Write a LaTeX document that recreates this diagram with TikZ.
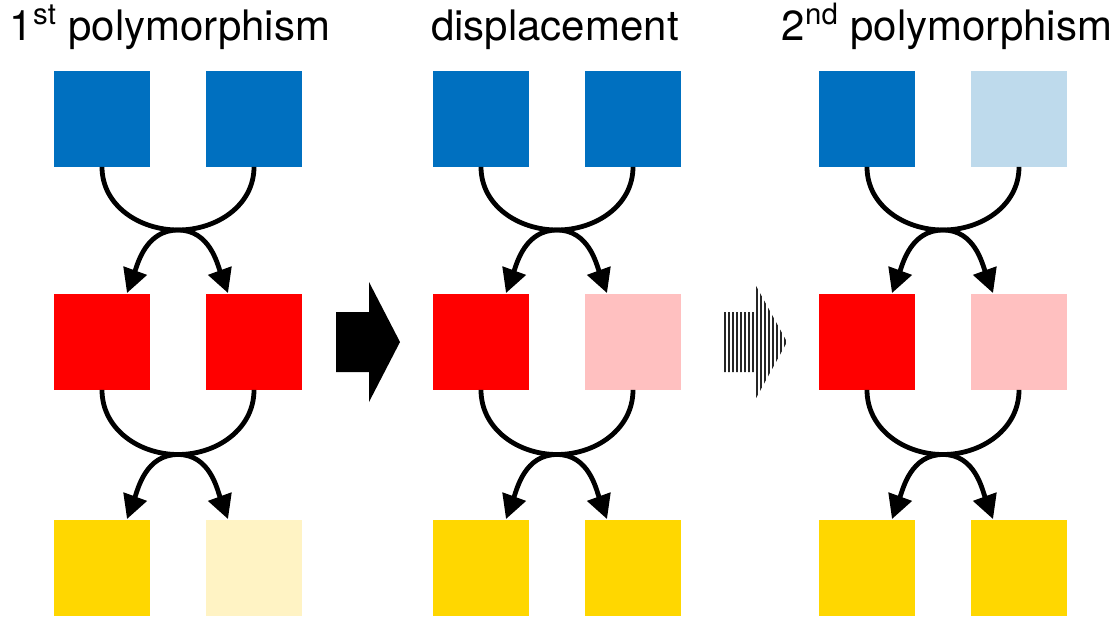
\documentclass[tikz,border=0pt]{standalone}
\usepackage{fontspec}
\setmainfont{TeX Gyre Heros}
\usepackage{tikz}
\usetikzlibrary{arrows.meta, calc}
\definecolor{sqblue}{RGB}{0,112,192}
\definecolor{sqlblue}{RGB}{190,218,236}
\definecolor{sqred}{RGB}{255,0,0}
\definecolor{sqpink}{RGB}{255,192,192}
\definecolor{sqyellow}{RGB}{255,215,0}
\definecolor{sqlyellow}{RGB}{255,243,196}

\begin{document}
\begin{tikzpicture}[x=0.5pt, y=-0.5pt,
    sq/.style={rectangle, minimum size=48pt, inner sep=0pt},
    link/.style={-{Triangle[length=12pt,width=12pt]}, line width=2.4pt},
    title/.style={anchor=base, inner sep=0pt, font=\fontsize{21}{25}\selectfont}
]
    \useasboundingbox (0,0) rectangle (1119,617);

    % Titles
    \node[title] (t1) at (170,40) {1\textsuperscript{st} polymorphism};
    \node[title] (t2) at (555,40) {displacement};
    \node[title] (t3) at (947,40) {2\textsuperscript{nd} polymorphism};

    % 1st polymorphism
    \node[sq, fill=sqblue] (b1l) at (102,118.5) {};
    \node[sq, fill=sqblue] (b1r) at (254,118.5) {};
    \node[sq, fill=sqred] (r1l) at (102,341.5) {};
    \node[sq, fill=sqred] (r1r) at (254,341.5) {};
    \node[sq, fill=sqyellow] (y1l) at (102,567.5) {};
    \node[sq, fill=sqlyellow] (y1r) at (254,567.5) {};

    % displacement
    \node[sq, fill=sqblue] (b2l) at (481,118.5) {};
    \node[sq, fill=sqblue] (b2r) at (633,118.5) {};
    \node[sq, fill=sqred] (r2l) at (481,341.5) {};
    \node[sq, fill=sqpink] (r2r) at (633,341.5) {};
    \node[sq, fill=sqyellow] (y2l) at (481,567.5) {};
    \node[sq, fill=sqyellow] (y2r) at (633,567.5) {};

    % 2nd polymorphism
    \node[sq, fill=sqblue] (b3l) at (867,118.5) {};
    \node[sq, fill=sqlblue] (b3r) at (1019,118.5) {};
    \node[sq, fill=sqred] (r3l) at (867,341.5) {};
    \node[sq, fill=sqpink] (r3r) at (1019,341.5) {};
    \node[sq, fill=sqyellow] (y3l) at (867,567.5) {};
    \node[sq, fill=sqyellow] (y3r) at (1019,567.5) {};

    % Crossing points
    \coordinate (c1a) at ($(b1l.south)!0.5!(r1r.north)$);
    \coordinate (c1b) at ($(r1l.south)!0.5!(y1r.north)$);
    \coordinate (c2a) at ($(b2l.south)!0.5!(r2r.north)$);
    \coordinate (c2b) at ($(r2l.south)!0.5!(y2r.north)$);
    \coordinate (c3a) at ($(b3l.south)!0.5!(r3r.north)$);
    \coordinate (c3b) at ($(r3l.south)!0.5!(y3r.north)$);

    % Crossing arrows
    \draw[link] (b1l.south) to[out=-90,in=180] (c1a) to[out=0,in=110] ([xshift=-13pt]r1r.north);
    \draw[link] (b1r.south) to[out=-90,in=0] (c1a) to[out=180,in=70] ([xshift=12.5pt]r1l.north);
    \draw[link] (r1l.south) to[out=-90,in=180] (c1b) to[out=0,in=110] ([xshift=-13pt]y1r.north);
    \draw[link] (r1r.south) to[out=-90,in=0] (c1b) to[out=180,in=70] ([xshift=12.5pt]y1l.north);
    \draw[link] (b2l.south) to[out=-90,in=180] (c2a) to[out=0,in=110] ([xshift=-13pt]r2r.north);
    \draw[link] (b2r.south) to[out=-90,in=0] (c2a) to[out=180,in=70] ([xshift=12.5pt]r2l.north);
    \draw[link] (r2l.south) to[out=-90,in=180] (c2b) to[out=0,in=110] ([xshift=-13pt]y2r.north);
    \draw[link] (r2r.south) to[out=-90,in=0] (c2b) to[out=180,in=70] ([xshift=12.5pt]y2l.north);
    \draw[link] (b3l.south) to[out=-90,in=180] (c3a) to[out=0,in=110] ([xshift=-13pt]r3r.north);
    \draw[link] (b3r.south) to[out=-90,in=0] (c3a) to[out=180,in=70] ([xshift=12.5pt]r3l.north);
    \draw[link] (r3l.south) to[out=-90,in=180] (c3b) to[out=0,in=110] ([xshift=-13pt]y3r.north);
    \draw[link] (r3r.south) to[out=-90,in=0] (c3b) to[out=180,in=70] ([xshift=12.5pt]y3l.north);

    % Solid block arrow
    \fill (336,312) -- (369,312) -- (369,282) -- (400,342) -- (369,402) -- (369,372) -- (336,372) -- cycle;

    % Striped block arrow
    \begin{scope}
        \clip (724,312) -- (755,312) -- (755,284) -- (787,342) -- (755,400) -- (755,372) -- (724,372) -- cycle;
        \foreach \x in {725,729,...,789}
            \draw[line width=0.8pt, black!85] (\x,280) -- (\x,404);
    \end{scope}
\end{tikzpicture}
\end{document}
